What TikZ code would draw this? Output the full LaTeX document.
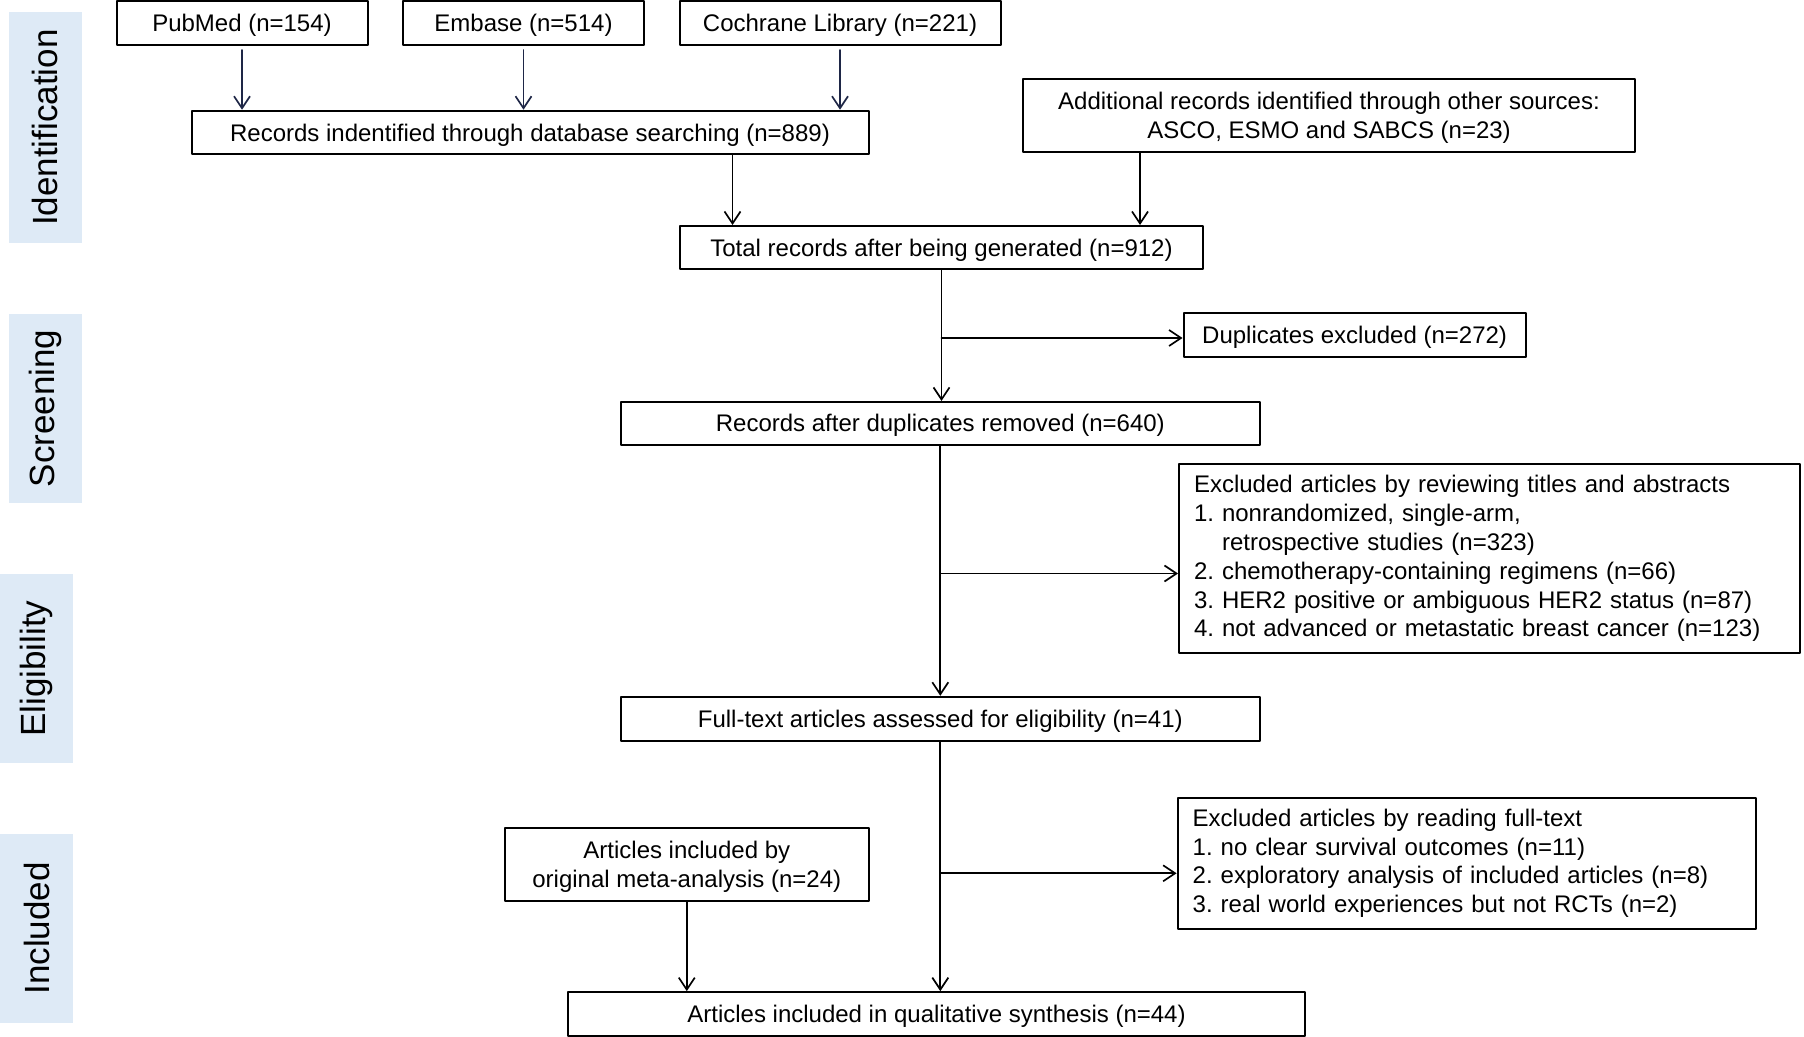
\documentclass[tikz,border=0pt]{standalone}
\usepackage{fontspec}
\setmainfont{Liberation Sans}
\usetikzlibrary{arrows.meta, calc}
\definecolor{bandblue}{RGB}{222,234,246}
\definecolor{arrnavy}{RGB}{30,38,70}
\frenchspacing
\newcommand{\boxfont}{\fontsize{12}{14.45}\selectfont}
\newcommand{\bandfont}{\fontsize{17.5}{21}\selectfont}
\tikzset{
	box/.style={draw, line width=1pt, inner sep=0pt, text depth=0pt, align=center, font=\boxfont},
	listbox/.style={draw, line width=1pt, inner xsep=7.5pt, inner ysep=0pt, align=left, font=\boxfont},
	band/.style={fill=bandblue, rotate=90, inner sep=0pt, font=\bandfont},
	arr/.style={line width=0.85pt, -{Straight Barb[length=6pt,width=8pt]}},
}

\begin{document}
\begin{tikzpicture}[x=0.5pt, y=-0.5pt, line cap=round, line join=round]
\useasboundingbox (0,0) rectangle (1804,1037);

%========================
% phase bands on the left
%========================
\node[band, minimum width=115.35pt, minimum height=36.7pt] (ident) at (45.3,127.7) {Identification};
\node[band, minimum width=94.5pt, minimum height=36.5pt] (screen) at (45.5,408.4) {Screening};
\node[band, minimum width=94.5pt, minimum height=36.5pt] (elig) at (36.5,668.8) {Eligibility};
\node[band, minimum width=94.5pt, minimum height=36.5pt] (incl) at (36.5,928.5) {Included};

%========================
% identification
%========================
\node[box, minimum width=125.5pt, minimum height=22pt] (pubmed) at (242,23) {PubMed (n=154)};
\node[box, minimum width=120.5pt, minimum height=22pt] (embase) at (523.5,23) {Embase (n=514)};
\node[box, minimum width=160.5pt, minimum height=22pt] (cochrane) at (840,23) {Cochrane Library (n=221)};
\node[box, minimum width=338.5pt, minimum height=21.75pt] (dbrec) at (530,132.5)
	{Records indentified through database searching (n=889)};
\node[box, minimum width=306pt, minimum height=36.5pt] (other) at (1329,115.5)
	{Additional records identified through other sources:\\ASCO, ESMO and SABCS (n=23)};
\node[box, minimum width=261.5pt, minimum height=21.5pt] (total) at (941.5,247.5)
	{Total records after being generated (n=912)};

% databases into the search record box
\foreach \db in {pubmed, embase, cochrane}
	\draw[arr, arrnavy, shorten <=2pt] (\db.south) -- (\db.south |- dbrec.north);

\draw[arr] (dbrec.south) ++(202.5,0) coordinate (a1) -- (a1 |- total.north);
\draw[arr] (other.south) ++(-189,0) coordinate (a2) -- (a2 |- total.north);

%========================
% screening
%========================
\node[box, minimum width=171pt, minimum height=21.7pt] (dup) at (1354.6,335) {Duplicates excluded (n=272)};
\node[box, minimum width=319.7pt, minimum height=21.35pt] (afterdup) at (940.3,423.3)
	{Records after duplicates removed (n=640)};
\node[listbox, text width=295.5pt, minimum height=94.2pt] (excl1) at (1489.5,558.5)
	{Excluded articles by reviewing titles and abstracts\\
	1. nonrandomized, single-arm,\\
	\hphantom{1.\ }retrospective studies (n=323)\\
	2. chemotherapy-containing regimens (n=66)\\
	3. HER2 positive or ambiguous HER2 status (n=87)\\
	4. not advanced or metastatic breast cancer (n=123)};

\coordinate (d1) at ([yshift=-1.5pt]dup.west);
\draw[arr] (total.south) -- (total.south |- afterdup.north);
\draw[arr] (total.south |- d1) -- (d1);

%========================
% eligibility
%========================
\node[box, minimum width=319.7pt, minimum height=22pt] (fulltext) at (940.3,718.8)
	{Full-text articles assessed for eligibility (n=41)};

\coordinate (e1) at ([yshift=-7.5pt]excl1.west);
\draw[arr] (afterdup.south) -- (afterdup.south |- fulltext.north);
\draw[arr] (afterdup.south |- e1) -- (e1);

%========================
% included
%========================
\node[box, minimum width=182.2pt, minimum height=36.8pt] (meta) at (686.8,864.5)
	{Articles included by\\original meta-analysis (n=24)};
\node[listbox, text width=274.35pt, minimum height=65.65pt] (excl2) at (1467,863.3)
	{Excluded articles by reading full-text\\
	1. no clear survival outcomes (n=11)\\
	2. exploratory analysis of included articles (n=8)\\
	3. real world experiences but not RCTs (n=2)};
\node[box, minimum width=368.8pt, minimum height=21.85pt] (synth) at (936.5,1014)
	{Articles included in qualitative synthesis (n=44)};

\coordinate (e2) at ([yshift=-5pt]excl2.west);
\draw[arr] (fulltext.south) -- (fulltext.south |- synth.north);
\draw[arr] (fulltext.south |- e2) -- (e2);
\draw[arr] (meta.south) -- (meta.south |- synth.north);

\end{tikzpicture}
\end{document}
